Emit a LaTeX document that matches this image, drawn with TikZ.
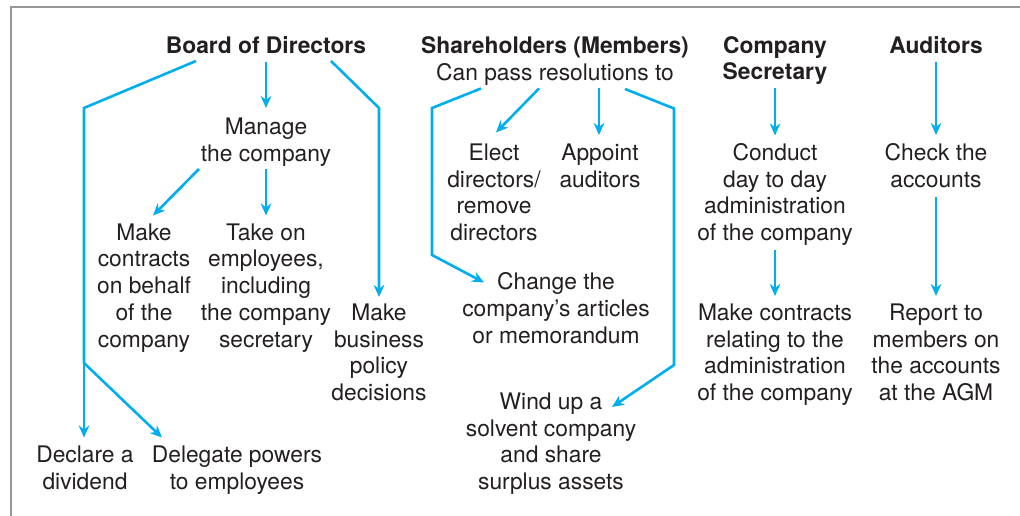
\documentclass[tikz,border=0pt]{standalone}
\usepackage{fontspec}
\setmainfont{TeX Gyre Heros}
\usepackage{xcolor}
\usetikzlibrary{arrows.meta,calc}
\definecolor{linkblue}{RGB}{0,174,239}
\definecolor{inkgray}{RGB}{35,31,32}
\definecolor{framegray}{RGB}{150,150,150}

\begin{document}
\begin{tikzpicture}[x=1pt,y=-1pt,
  txt/.style={align=center, inner sep=0pt, anchor=base, text=inkgray, font=\fontsize{22.8}{26.7}\selectfont},
  hd/.style={txt, font=\fontsize{22.8}{26.7}\selectfont\bfseries},
  link/.style={draw=linkblue, line width=2.6pt},
  arr/.style={link, -{Stealth[length=12pt,width=10.5pt]}}]
\useasboundingbox (0,0) rectangle (1020,516);
\draw[framegray, line width=2pt] (11,516) -- (11,7.5) -- (1020,7.5);

% Board of Directors (nodes sit on their last baseline)
\node[hd] (board) at (266,53.5) {Board of Directors};
\node[txt] (manage) at (266,161) {Manage\\the company};
\node[txt] (contracts) at (144,347) {Make\\contracts\\on behalf\\of the\\company};
\node[txt] (takeon) at (266,347) {Take on\\employees,\\including\\the company\\secretary};
\node[txt] (policy) at (379,400.5) {Make\\business\\policy\\decisions};
\node[txt] (dividend) at (85,489) {Declare a\\dividend};
\node[txt] (delegate) at (237,489) {Delegate powers\\to employees};
\coordinate (fork) at (84,363);
\draw[arr] ($(board.base)+(0,8.5)$) -- ($(manage.base)+(0,-53)$);
\draw[link] ($(board.base)+(-70,7.5)$) -- (84,108) -- (fork);
\draw[arr] (fork) -- ($(dividend.base)+(-1,-51.5)$);
\draw[arr] (fork) -- ($(delegate.base)+(-75,-51.5)$);
\draw[arr] ($(board.base)+(65,7.5)$) -- (379,108) -- ($(policy.base)+(0,-103.5)$);
\draw[arr] ($(manage.base)+(-67,8)$) -- ($(contracts.base)+(9,-131.5)$);
\draw[arr] ($(manage.base)+(0,8)$) -- ($(takeon.base)+(0,-131.5)$);

% Shareholders
\node[hd] (share) at (555,53.5) {Shareholders (Members)};
\node[txt] (canpass) at (555,80.5) {Can pass resolutions to};
\node[txt] (elect) at (494,240.5) {Elect\\directors/\\remove\\directors};
\node[txt] (appoint) at (600,187) {Appoint\\auditors};
\node[txt] (change) at (556,343) {Change the\\company’s articles\\or memorandum};
\node[txt] (windup) at (551,489.5) {Wind up a\\solvent company\\and share\\surplus assets};
\draw[arr] ($(canpass.base)+(-74,8)$) -- (432,108) -- (432,255) -- ($(change.base)+(-72,-60.5)$);
\draw[arr] ($(canpass.base)+(-16,8)$) -- ($(elect.base)+(2,-108)$);
\draw[arr] ($(canpass.base)+(44,8)$) -- ($(appoint.base)+(-1,-52)$);
\draw[arr] ($(canpass.base)+(70,8.5)$) -- (674,108.5) -- (674,365) -- ($(windup.base)+(61,-82.5)$);

% Company Secretary
\node[hd] (secr) at (775,80) {Company\\Secretary};
\node[txt] (conduct) at (775,240.5) {Conduct\\day to day\\administration\\of the company};
\node[txt] (makerel) at (775,400.5) {Make contracts\\relating to the\\administration\\of the company};
\draw[arr] ($(secr.base)+(0,8)$) -- ($(conduct.base)+(0,-105)$);
\draw[arr] ($(conduct.base)+(0,9.5)$) -- ($(makerel.base)+(0,-104.5)$);

% Auditors
\node[hd] (aud) at (936,53.5) {Auditors};
\node[txt] (check) at (936,187) {Check the\\accounts};
\node[txt] (report) at (936,400.5) {Report to\\members on\\the accounts\\at the AGM};
\draw[arr] ($(aud.base)+(0,8.5)$) -- ($(check.base)+(0,-52)$);
\draw[arr] ($(check.base)+(0,10)$) -- ($(report.base)+(0,-104.5)$);
\end{tikzpicture}
\end{document}
